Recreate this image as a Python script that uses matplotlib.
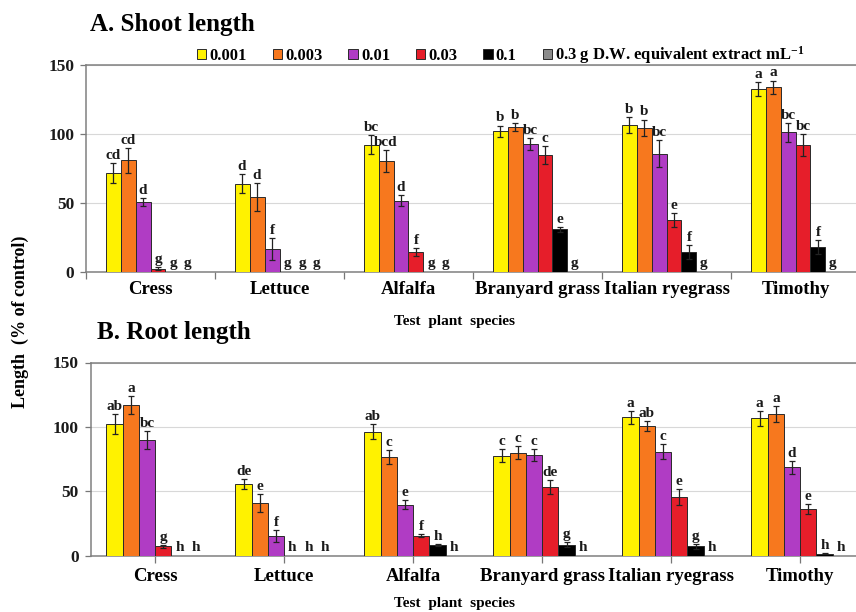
#!/usr/bin/env python3
"""Shoot and root length (% of control) of six test plants under extract dilutions."""
import matplotlib
matplotlib.use("Agg")
import matplotlib.pyplot as plt
import numpy as np

plt.rcParams["font.family"] = ["Liberation Serif", "DejaVu Serif"]
plt.rcParams["font.weight"] = "bold"
plt.rcParams["mathtext.fontset"] = "custom"
plt.rcParams["mathtext.rm"] = "Liberation Serif:bold"
plt.rcParams["mathtext.default"] = "rm"

species = ["Cress", "Lettuce", "Alfalfa", "Branyard grass", "Italian ryegrass", "Timothy"]
doses = ["0.001", "0.003", "0.01", "0.03", "0.1",
         "0.3 g D.W. equivalent extract mL$^{-1}$"]
colors = ["#fff200", "#f7781e", "#b03cc4", "#e61e2a", "#000000", "#8c8c8c"]

# rows = species, cols = doses
shoot = [
    [71.5, 80.8, 50.5, 2.0, 0, 0],
    [63.8, 54.0, 16.3, 0, 0, 0],
    [92.0, 80.0, 51.5, 14.3, 0, 0],
    [102.0, 105.0, 92.5, 84.5, 30.6, 0],
    [106.3, 104.4, 85.7, 37.6, 14.0, 0],
    [132.3, 133.7, 101.0, 91.7, 17.7, 0],
]
shoot_err = [
    [7, 9, 3, 1, 0, 0],
    [7, 10, 8, 0, 0, 0],
    [7, 8, 4, 3, 0, 0],
    [4, 3, 4.5, 6.5, 2, 0],
    [6, 6, 9.5, 5, 5, 0],
    [5, 5, 7, 8, 5, 0],
]
shoot_letters = [
    ["cd", "cd", "d", "g", "g", "g"],
    ["d", "d", "f", "g", "g", "g"],
    ["bc", "bcd", "d", "f", "g", "g"],
    ["b", "b", "bc", "c", "e", "g"],
    ["b", "b", "bc", "e", "f", "g"],
    ["a", "a", "bc", "bc", "f", "g"],
]

root = [
    [102.1, 117.1, 89.5, 7.0, 0, 0],
    [55.6, 40.6, 15.3, 0, 0, 0],
    [96.2, 76.8, 39.3, 15.5, 8.3, 0],
    [77.6, 79.9, 78.1, 53.5, 8.3, 0],
    [107.3, 100.6, 80.7, 45.3, 7.0, 0],
    [106.5, 109.9, 68.5, 36.2, 1.3, 0],
]
root_err = [
    [8, 7, 7, 1, 0, 0],
    [4, 7, 4.5, 0, 0, 0],
    [6, 5.5, 3.5, 1, 1, 0],
    [5, 5, 5, 5.5, 2, 0],
    [5, 4, 6, 6, 2, 0],
    [6, 6, 5, 4, 0.5, 0],
]
root_letters = [
    ["ab", "a", "bc", "g", "h", "h"],
    ["de", "e", "f", "h", "h", "h"],
    ["ab", "c", "e", "f", "h", "h"],
    ["c", "c", "c", "de", "g", "h"],
    ["a", "ab", "c", "e", "g", "h"],
    ["a", "a", "d", "e", "h", "h"],
]

W, H = 856, 612


def draw_panel(ax, vals, errs, letters, bar_w, title, title_y, boundary_ticks):
    vals = np.array(vals)
    errs = np.array(errs)
    x = np.arange(len(species))
    n = len(doses)
    handles = []
    for j in range(n):
        pos = x + (j - (n - 1) / 2) * bar_w
        b = ax.bar(pos, vals[:, j], bar_w, color=colors[j], edgecolor="#2a2a2a",
                   linewidth=0.7, zorder=3, label=doses[j])
        handles.append(b)
        mask = errs[:, j] > 0
        ax.errorbar(pos[mask], vals[mask, j], yerr=errs[mask, j], fmt="none",
                    ecolor="#222222", elinewidth=0.9, capsize=2.5, capthick=0.9,
                    zorder=4)
        for i in range(len(species)):
            ax.text(pos[i], vals[i, j] + errs[i, j] + 0.8, letters[i][j],
                    ha="center", va="bottom", fontsize=11, fontweight="bold",
                    color="#1a1a1a", zorder=5)

    ax.set_xlim(-0.5, len(species) - 0.5)
    ax.set_ylim(0, 150)
    ax.set_yticks([0, 50, 100, 150])
    ax.tick_params(axis="y", labelsize=12.5, length=4.5, width=0.9,
                   color="#777777", pad=4, labelcolor="#1a1a1a")
    ax.grid(True, axis="y", color="#d8d8d8", linewidth=0.8, zorder=0)
    for side in ("left", "bottom", "top"):
        ax.spines[side].set_color("#808080")
        ax.spines[side].set_linewidth(1.1)
    ax.spines["right"].set_visible(False)

    if boundary_ticks:
        ax.set_xticks(np.arange(len(species) + 1) - 0.5)
        ax.set_xticklabels([])
        ax.set_xticks(x, minor=True)
        ax.set_xticklabels(species, minor=True)
        ax.tick_params(axis="x", which="major", length=5, width=0.9, color="#777777")
        ax.tick_params(axis="x", which="minor", length=0, pad=7, labelsize=13.5)
    else:
        ax.set_xticks(x)
        ax.set_xticklabels(species)
        ax.tick_params(axis="x", length=5, width=0.9, color="#777777", pad=4,
                       labelsize=13.5)

    fig = ax.figure
    fig.text(97 / W, 1 - title_y / H, title, fontsize=18, fontweight="bold",
             ha="left", va="center")
    return handles


fig = plt.figure(figsize=(W / 100, H / 100), dpi=100)
ax1 = fig.add_axes([86 / W, 1 - 271.5 / H, 774 / W, (271.5 - 65) / H])
ax2 = fig.add_axes([90.7 / W, 1 - 555.5 / H, 774 / W, (555.5 - 362.5) / H])

handles = draw_panel(ax1, shoot, shoot_err, shoot_letters, 0.116,
                     "A. Shoot length", 24, True)
draw_panel(ax2, root, root_err, root_letters, 0.126,
           "B. Root length", 332, False)
fig.texts[0].set_x(90 / W)

fig.text(455 / W, 1 - 322 / H, "Test  plant  species", fontsize=11,
         fontweight="bold", ha="center", va="center")
fig.text(455 / W, 1 - 604 / H, "Test  plant  species", fontsize=11,
         fontweight="bold", ha="center", va="center")
fig.text(20 / W, 1 - 322 / H, "Length  (% of control)", fontsize=13,
         fontweight="bold", rotation=90, ha="center", va="center")

fig.legend(handles, doses, loc="center left",
           bbox_to_anchor=(197 / W, 1 - 55 / H), ncol=6, frameon=False,
           handlelength=0.55, handleheight=0.55, handletextpad=0.2,
           columnspacing=1.55, borderpad=0, borderaxespad=0,
           prop={"size": 12, "weight": "bold"})

fig.savefig("out.png", dpi=100)
